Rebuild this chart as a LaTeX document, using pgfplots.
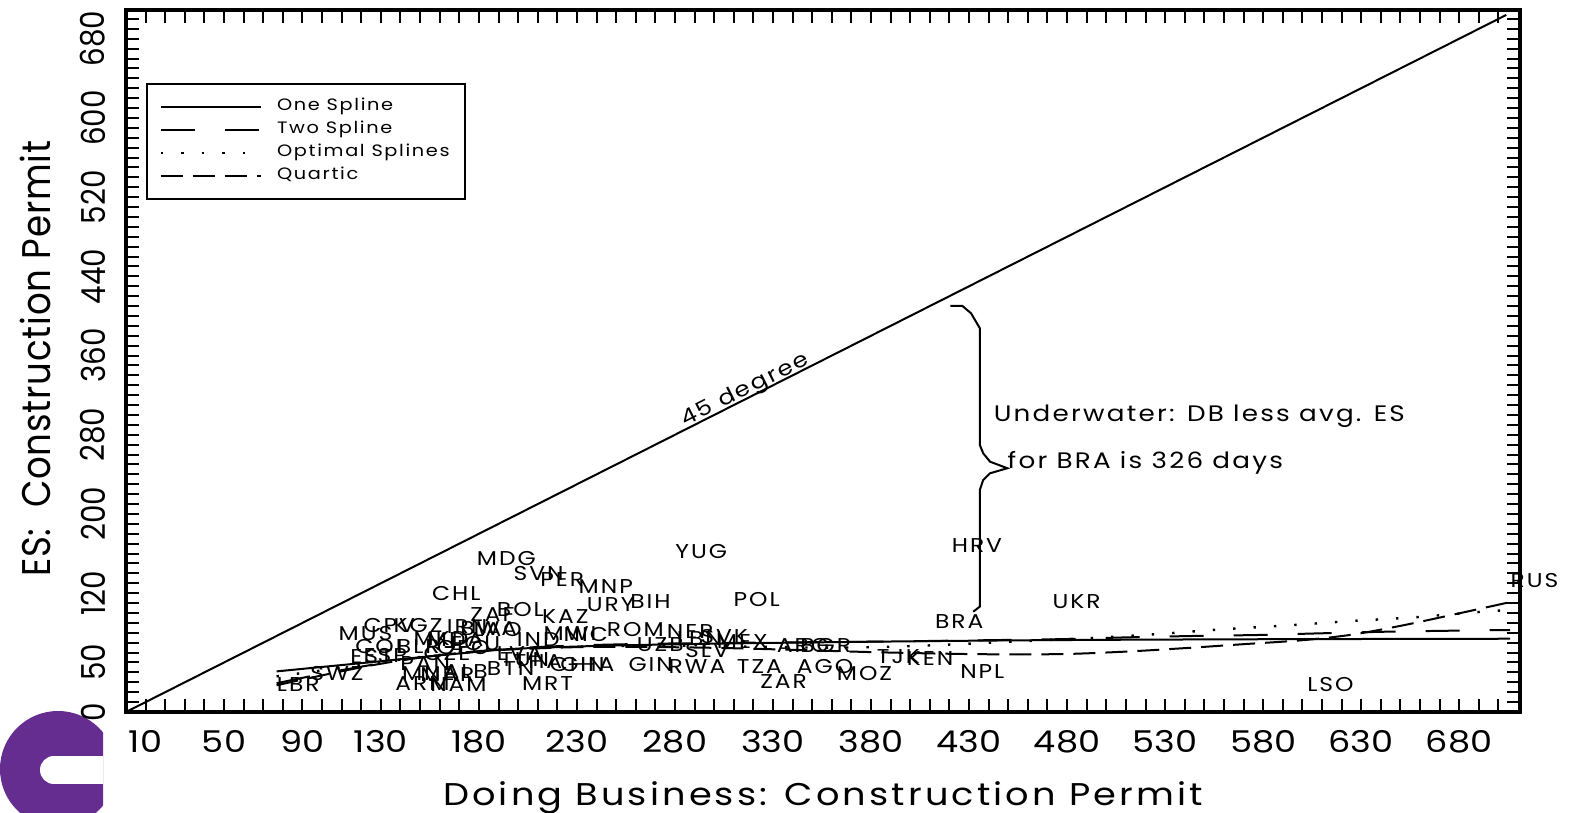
\documentclass[border=0pt]{standalone}
\usepackage{fontspec}
\usepackage{pgfplots}
\pgfplotsset{compat=1.18}
\setmainfont{Poppins}
\newfontfamily\hfont[FakeStretch=1.17,LetterSpace=10]{Poppins}
\newfontfamily\xtfont[FakeStretch=1.17]{Poppins}
\newfontfamily\vfont[FakeStretch=0.89]{Poppins}
\newfontfamily\vtfont[FakeStretch=0.89,LetterSpace=2]{Poppins}
\definecolor{logopurple}{RGB}{102,45,145}

\begin{document}
\begin{tikzpicture}
\useasboundingbox (0,0) rectangle (789.5pt,406.5pt);
\begin{scope}
\clip (0,0) rectangle (51.5pt,406.5pt);
\fill[logopurple] (29pt,22pt) circle (29pt);
\fill[white] (27pt,21.5pt) circle (7pt);
\fill[white] (27pt,14.5pt) rectangle (53pt,28.5pt);
\end{scope}
\begin{axis}[
  at={(63pt,50.5pt)}, anchor=south west,
  width=697pt, height=351pt, scale only axis,
  xmin=0, xmax=711, ymin=0, ymax=709,
  clip=false,
  axis line style={line width=2.2pt},
  tick align=inside,
  tick style={black, line width=1pt},
  major tick length=6.5pt, minor tick length=6.5pt,
  xtick={10,50,90,130,180,230,280,330,380,430,480,530,580,630,680},
  xticklabels={\hbox{10},\hbox{50},\hbox{90},\hbox{130},\hbox{180},\hbox{230},\hbox{280},\hbox{330},\hbox{380},\hbox{430},\hbox{480},\hbox{530},\hbox{580},\hbox{630},\hbox{680}},
  minor xtick={10,20,...,700},
  ytick={0,50,120,200,280,360,440,520,600,680},
  yticklabels={\hbox{0},\hbox{50},\hbox{120},\hbox{200},\hbox{280},\hbox{360},\hbox{440},\hbox{520},\hbox{600},\hbox{680}},
  minor ytick={10,20,...,700},
  xticklabel style={font=\xtfont\fontsize{15pt}{18pt}\selectfont, anchor=north, inner sep=0pt},
  xticklabel shift=9pt,
  yticklabel style={font=\vfont\fontsize{16.5pt}{19pt}\selectfont, rotate=90, anchor=south, inner sep=0pt},
  yticklabel shift=10pt,
  xlabel={Doing Business: Construction Permit},
  ylabel={ES:\ \ Construction Permit},
  xlabel style={font=\hfont\fontsize{15.7pt}{18pt}\selectfont, at={(axis description cs:0.5,-0.1325)}, anchor=base, inner sep=0pt},
  ylabel style={font=\vtfont\fontsize{20pt}{24pt}\selectfont, at={(axis description cs:-0.054,0.503)}, anchor=base, inner sep=0pt},
  legend style={at={(axis description cs:0.0143,0.896)}, anchor=north west, draw=black, line width=0.8pt, fill=white,
    font=\hfont\fontsize{8.25pt}{10pt}\selectfont, inner xsep=6.5pt, inner ysep=6.5pt, row sep=1.5pt, column sep=6.5pt,
    nodes={inner sep=1pt, text height=6pt, text depth=2pt}},
  legend cell align=left,
  legend image code/.code={\draw[#1] (0pt,0pt) -- (50pt,0pt);},
]
\addplot[black, line width=1pt, forget plot] coordinates {(0,0) (704,704)};

\addplot[black, line width=1pt, smooth] coordinates {
(76.8,41) (100,45.5) (125,50.3) (150,55.3) (175,60) (195,63.5) (220,65.5) (250,67.2) (300,69) (350,70.3) (400,71.4) (450,72.3) (500,72.9) (550,73.3) (600,73.6) (650,73.8) (706,74)};
\addlegendentry{One Spline}
\addplot[black, line width=1pt, smooth, dash pattern=on 17pt off 15pt] coordinates {
(76.8,29) (100,38.5) (125,47.5) (150,55) (175,60.5) (200,64.5) (230,67.2) (270,69) (320,70) (380,71) (446,72.7) (480,73.7) (511,75.4) (545,76.8) (578,77.8) (610,79.5) (643,81.1) (676,82.1) (706,82.8)};
\addlegendentry{Two Spline}
\addplot[black, line width=1.2pt, smooth, dash pattern=on 1.2pt off 9pt] coordinates {
(76.8,36) (100,42) (125,49) (150,55.5) (175,60.5) (200,64) (240,66.5) (280,67) (320,66) (360,65) (400,66.5) (446,70.5) (495,75) (527,78.8) (559,83.5) (593,87.5) (625,91.9) (657,95.6) (690,101) (706,103)};
\addlegendentry{Optimal Splines}
\addplot[black, line width=1pt, smooth, dash pattern=on 11pt off 5pt] coordinates {
(76.8,27) (100,37) (125,47) (150,55) (175,60.5) (200,63.5) (230,65.5) (260,65.8) (300,64.8) (340,62.8) (380,60.5) (420,58.8) (450,58.2) (480,58.6) (510,61) (540,64.5) (570,68.5) (600,72.5) (625,78) (650,87) (675,97.5) (706,111)};
\addlegendentry{Quartic}

\addplot[only marks, mark=*, mark size=0pt, mark options={draw=none, fill=none}, forget plot,
  nodes near coords, point meta=explicit symbolic,
  nodes near coords style={anchor=west, inner sep=0pt, font=\hfont\fontsize{10pt}{12pt}\selectfont}]
table[meta=lab] {
x y lab
76.8 27.3 LBR
93.8 39.1 SWZ
108.3 79.5 MUS
121 86.9 CPV
136.3 86.9 KGZ
163.5 86.2 IRN
170.3 84.5 BWA
177.1 82.8 LAO
175.4 98 ZAF
189 103 BOL
212 96.3 KAZ
155.9 119.9 CHL
178.8 155.3 MDG
197.5 140.1 SVN
211.1 133.3 PER
230.7 126.6 MNP
234.9 108.1 URY
257 111.4 BIH
116.8 66 COL
138 66 BLR
146.5 74.4 MKD
153.3 72.7 MDA
158.4 65.3 GEO
165.2 69.4 ECU
114.2 55.9 EST
121 56.6 ESP
151.6 59.3 CZE
139.7 48.5 PAN
140.6 39.1 MNE
149.9 37.4 MAR
161.8 40.7 ALB
137.2 29 ARM
155 27.3 NAM
183.9 44.1 BTN
189 59.3 LVA
199.2 72.7 IND
212.8 79.5 MWI
223 77.8 NIC
190.7 52.5 TUN
197.5 50.8 THA
221.3 47.5 GHA
216 47.5 CHN
201.8 29 MRT
245.1 82.8 ROM
260.4 67.7 UZB
256.1 47.5 GIN
280 161.9 YUG
309.7 113.1 POL
275.7 81.1 NER
292.7 76.1 SVK
301.2 71 MEX
285 62.6 SLV
280.8 74.4 LBN
276.5 45.8 RWA
311.4 45.8 TZA
323.3 30.6 ZAR
342 45.8 AGO
331.8 66.7 ARG
343.7 66.7 BGR
362.4 39.1 MOZ
382.8 55.9 TJK
398.1 54.2 KEN
421 167.7 HRV
412.5 91.2 BRA
425.3 40.7 NPL
472.4 111.9 UKR
602.3 27.5 LSO
706 133.3 RUS
};

\draw[black, line width=1pt] (axis cs:420.5,410.1) -- (axis cs:426.6,410.1) -- (axis cs:431,402.7) -- (axis cs:435.5,387.6)
  -- (axis cs:435.5,269.7) -- (axis cs:437.2,261.3) -- (axis cs:440.7,252.8) -- (axis cs:449.5,246.2)
  -- (axis cs:440.7,241.1) -- (axis cs:437.2,234.3) -- (axis cs:435.5,224.2) -- (axis cs:435.5,106.4) -- (axis cs:432.1,101.3);

\node[anchor=base west, inner sep=0pt, font=\hfont\fontsize{11.2pt}{13pt}\selectfont] at (axis cs:442.4,293.2) {Underwater: DB less avg. ES};
\node[anchor=base west, inner sep=0pt, font=\hfont\fontsize{11.2pt}{13pt}\selectfont] at (axis cs:449.5,246.2) {for BRA is 326 days};
\node[anchor=base west, inner sep=0pt, rotate=26.8, font=\hfont\fontsize{10.5pt}{12pt}\selectfont] at (axis cs:285,288) {45 degree};
\end{axis}
\end{tikzpicture}
\end{document}
